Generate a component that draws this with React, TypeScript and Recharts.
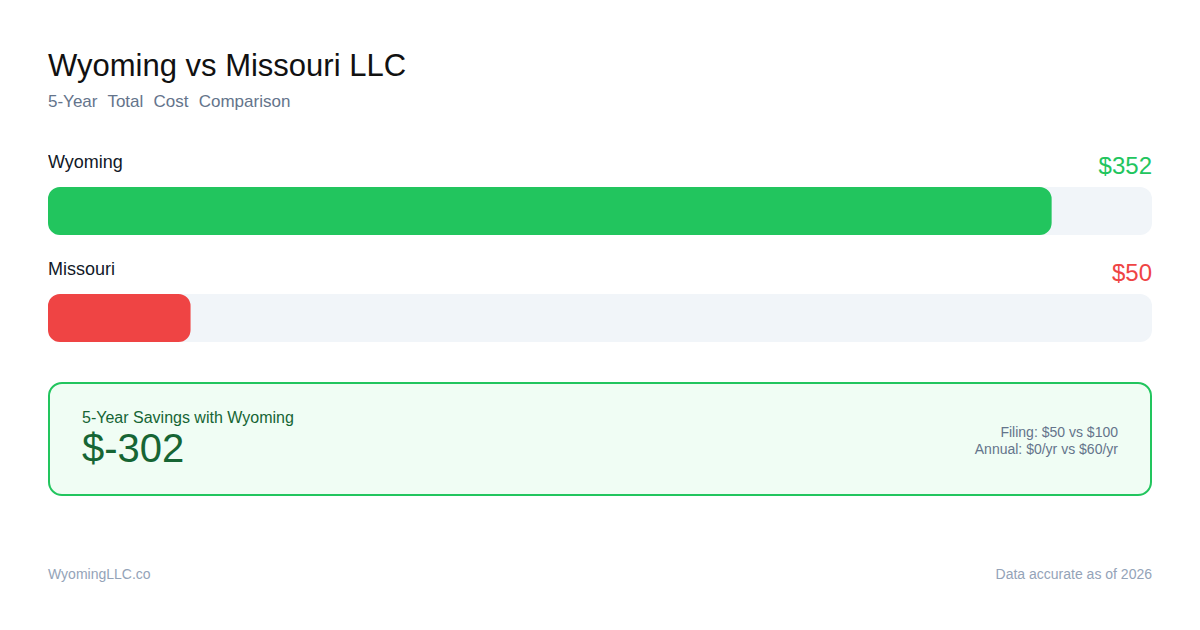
import React from "react";
import { BarChart, Bar, XAxis, YAxis, Cell } from "recharts";

const states = ["Wyoming", "Missouri"];
const totals = [352, 50];
const barColors = ["#22c55e", "#ef4444"];
const filingFees = [50, 100];
const annualFees = [0, 60];
const savings = -302;

const data = states.map((s, i) => ({ name: s, total: totals[i] }));
const maxVal = Math.max(...totals) * 1.1;

const FONT = '"Liberation Sans", Arial, Helvetica, sans-serif';

const Track = (props: any) => {
  const { x, y, width, height, index } = props;
  return (
    <g>
      <rect x={x} y={y} width={width} height={height} rx={12} ry={12} fill="#f1f5f9" />
      <text x={x} y={y - 19} fontSize={18} fill="#111827" fontFamily={FONT}>
        {states[index]}
      </text>
      <text x={x + width} y={y - 13} fontSize={24} fill={barColors[index]} textAnchor="end" fontFamily={FONT}>
        ${totals[index]}
      </text>
    </g>
  );
};

export default function App() {
  return (
    <div
      style={{
        position: "absolute",
        left: 0,
        top: 0,
        width: 1200,
        height: 630,
        background: "#ffffff",
        fontFamily: FONT,
        overflow: "hidden",
      }}
    >
      <div style={{ position: "absolute", left: 48, top: 47, fontSize: 31, color: "#111111", lineHeight: "37px", whiteSpace: "nowrap" }}>
        Wyoming vs Missouri LLC
      </div>
      <div style={{ position: "absolute", left: 48, top: 91, fontSize: 17, color: "#64748b", lineHeight: "22px", whiteSpace: "nowrap", wordSpacing: 5.5 }}>
        5-Year Total Cost Comparison
      </div>

      <div style={{ position: "absolute", left: 48, top: 116.5 }}>
        <BarChart
          width={1104}
          height={254}
          data={data}
          layout="vertical"
          margin={{ top: 40, right: 0, bottom: 0, left: 0 }}
        >
          <XAxis type="number" domain={[0, maxVal]} hide />
          <YAxis type="category" dataKey="name" hide />
          <Bar
            dataKey="total"
            barSize={48}
            radius={12}
            background={(p: any) => <Track {...p} />}
            isAnimationActive={false}
          >
            {data.map((d, i) => (
              <Cell key={d.name} fill={barColors[i]} />
            ))}
          </Bar>
        </BarChart>
      </div>

      <div
        style={{
          position: "absolute",
          left: 48,
          top: 382,
          width: 1104,
          height: 114,
          boxSizing: "border-box",
          border: "2px solid #22c55e",
          borderRadius: 14,
          background: "#f0fdf4",
        }}
      >
        <div style={{ position: "absolute", left: 32, top: 24, fontSize: 16, color: "#166534", lineHeight: "20px", whiteSpace: "nowrap" }}>
          5-Year Savings with Wyoming
        </div>
        <div style={{ position: "absolute", left: 32, top: 40, fontSize: 40, color: "#166534", lineHeight: "48px", whiteSpace: "nowrap" }}>
          ${savings}
        </div>
        <div style={{ position: "absolute", right: 32, top: 40, fontSize: 14, color: "#64748b", lineHeight: "17px", textAlign: "right", whiteSpace: "nowrap" }}>
          <div>Filing: ${filingFees[0]} vs ${filingFees[1]}</div>
          <div>Annual: ${annualFees[0]}/yr vs ${annualFees[1]}/yr</div>
        </div>
      </div>

      <div style={{ position: "absolute", left: 48, top: 565, fontSize: 14, color: "#94a3b8", lineHeight: "18px", whiteSpace: "nowrap" }}>
        WyomingLLC.co
      </div>
      <div style={{ position: "absolute", right: 48, top: 565, fontSize: 14, color: "#94a3b8", lineHeight: "18px", whiteSpace: "nowrap" }}>
        Data accurate as of 2026
      </div>
    </div>
  );
}
